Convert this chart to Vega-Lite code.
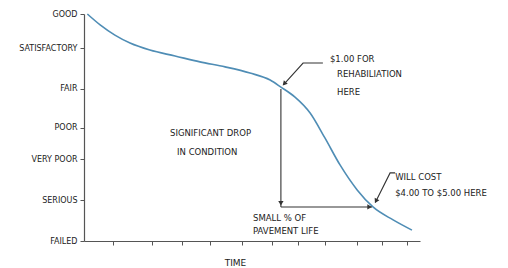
{
  "$schema": "https://vega.github.io/schema/vega-lite/v6.json",
  "width": 336,
  "height": 227,
  "autosize": "none",
  "padding": {"left": 84, "top": 14, "right": 88, "bottom": 27},
  "background": "white",
  "config": {"view": {"stroke": null}, "font": "DejaVu Sans"},
  "datasets": {
    "curve": [
      {"t": 1, "c": 100},
      {"t": 4.8, "c": 95.2},
      {"t": 9.2, "c": 90.7},
      {"t": 13.7, "c": 87.2},
      {"t": 19.6, "c": 84.1},
      {"t": 27.1, "c": 81.5},
      {"t": 34.5, "c": 78.9},
      {"t": 42.0, "c": 76.7},
      {"t": 49.4, "c": 74.0},
      {"t": 55.4, "c": 70.9},
      {"t": 58.6, "c": 67.8},
      {"t": 62.8, "c": 63.4},
      {"t": 67.3, "c": 56.4},
      {"t": 71.7, "c": 45.4},
      {"t": 76.2, "c": 33.5},
      {"t": 81.3, "c": 22.5},
      {"t": 86.0, "c": 15.0},
      {"t": 92.0, "c": 9.3},
      {"t": 97.6, "c": 4.8}
    ],
    "arrows": [
      {"id": "drop", "ord": 1, "t": 58.6, "c": 67.0},
      {"id": "drop", "ord": 2, "t": 58.6, "c": 15.0},
      {"id": "life", "ord": 1, "t": 58.6, "c": 15.0},
      {"id": "life", "ord": 2, "t": 85.7, "c": 15.0},
      {"id": "rehab", "ord": 1, "t": 71.1, "c": 78.4},
      {"id": "rehab", "ord": 2, "t": 65.2, "c": 78.4},
      {"id": "rehab", "ord": 3, "t": 59.4, "c": 68.9},
      {"id": "cost", "ord": 1, "t": 92.6, "c": 30.0},
      {"id": "cost", "ord": 2, "t": 91.1, "c": 30.0},
      {"id": "cost", "ord": 3, "t": 86.7, "c": 17.0}
    ],
    "heads": [
      {"t": 58.6, "c": 16.6, "angle": 180},
      {"t": 85.0, "c": 15.0, "angle": 90},
      {"t": 59.6, "c": 69.3, "angle": 222},
      {"t": 86.9, "c": 17.6, "angle": 207}
    ],
    "notes": [
      {"t": 73.2, "c": 80.2, "text": "$1.00 FOR"},
      {"t": 75.3, "c": 73.6, "text": "REHABILIATION"},
      {"t": 75.3, "c": 65.6, "text": "HERE"},
      {"t": 25.6, "c": 47.6, "text": "SIGNIFICANT DROP"},
      {"t": 27.7, "c": 39.2, "text": "IN CONDITION"},
      {"t": 92.6, "c": 28.2, "text": "WILL  COST"},
      {"t": 92.6, "c": 21.1, "text": "$4.00 TO $5.00 HERE"},
      {"t": 50.3, "c": 10.1, "text": "SMALL % OF"},
      {"t": 50.3, "c": 4.6, "text": "PAVEMENT LIFE"}
    ]
  },
  "layer": [
    {
      "data": {"name": "curve"},
      "mark": {"type": "line", "color": "#4f8db5", "strokeWidth": 1.6, "interpolate": "monotone"},
      "encoding": {
        "x": {
          "field": "t", "type": "quantitative",
          "scale": {"domain": [0, 100], "nice": false, "zero": false},
          "axis": {
            "values": [8.6, 20.2, 29.2, 37.5, 47.0, 56.0, 63.7, 71.7, 81.3, 88.7, 96.1],
            "tickCount": 30,
            "labels": false, "labelOverlap": false, "grid": false, "tickSize": 4, "tickColor": "#555", "domainColor": "#555", "domainWidth": 1.2,
            "title": "TIME", "titleFontSize": 9, "titleFontWeight": "normal", "titleColor": "#222",
            "titleX": 151, "titleY": 21, "titleBaseline": "middle"
          }
        },
        "y": {
          "field": "c", "type": "quantitative",
          "scale": {"domain": [0, 100], "nice": false, "zero": false},
          "axis": {
            "values": [0, 18, 36, 50, 67, 85, 100],
            "tickCount": 30,
            "labelExpr": "datum.value == 100 ? 'GOOD' : datum.value == 85 ? 'SATISFACTORY' : datum.value == 67 ? 'FAIR' : datum.value == 50 ? 'POOR' : datum.value == 36 ? 'VERY POOR' : datum.value == 18 ? 'SERIOUS' : 'FAILED'",
            "labelFontSize": 8, "labelColor": "#222", "labelPadding": 3, "labelOverlap": false, "labelFlush": false,
            "grid": false, "tickSize": 4, "tickColor": "#555", "domainColor": "#555", "domainWidth": 1.2,
            "title": null
          }
        }
      }
    },
    {
      "data": {"name": "arrows"},
      "mark": {"type": "line", "color": "#333", "strokeWidth": 1.1},
      "encoding": {
        "x": {"field": "t", "type": "quantitative"},
        "y": {"field": "c", "type": "quantitative"},
        "detail": {"field": "id"},
        "order": {"field": "ord"}
      }
    },
    {
      "data": {"name": "heads"},
      "mark": {"type": "point", "shape": "triangle-up", "filled": true, "color": "#333", "size": 28, "opacity": 1},
      "encoding": {
        "x": {"field": "t", "type": "quantitative"},
        "y": {"field": "c", "type": "quantitative"},
        "angle": {"field": "angle", "type": "quantitative", "scale": null}
      }
    },
    {
      "data": {"name": "notes"},
      "mark": {"type": "text", "align": "left", "baseline": "middle", "fontSize": 8.5, "color": "#222"},
      "encoding": {
        "x": {"field": "t", "type": "quantitative"},
        "y": {"field": "c", "type": "quantitative"},
        "text": {"field": "text"}
      }
    }
  ]
}
